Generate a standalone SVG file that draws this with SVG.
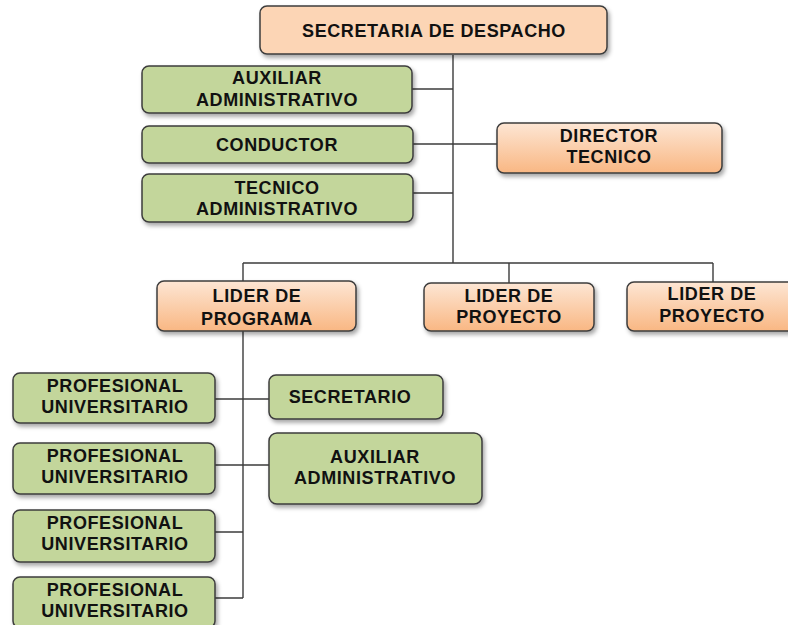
<svg xmlns="http://www.w3.org/2000/svg" width="788" height="625" viewBox="0 0 788 625">
<defs>
<linearGradient id="og" x1="0" y1="0" x2="0" y2="1">
<stop offset="0" stop-color="#fde6d4"/>
<stop offset="1" stop-color="#f9b783"/>
</linearGradient>
<filter id="sh" x="-10%" y="-20%" width="130%" height="160%">
<feDropShadow dx="2" dy="3" stdDeviation="2" flood-color="#000" flood-opacity="0.35"/>
</filter>
<style>
.box{stroke:#3c3c3c;stroke-width:1.5;filter:url(#sh)}
.g{fill:#c3d69b}
.o{fill:url(#og)}
.top{fill:#fcd5b5}
text{font-family:"Liberation Sans",Arial,sans-serif;font-weight:bold;font-size:18px;letter-spacing:0.6px;fill:#111;text-anchor:middle}
.c{stroke:#3c3c3c;stroke-width:1.4;fill:none}
</style>
</defs>
<rect width="788" height="625" fill="#fff"/>
<g id="connectors">
<path class="c" d="M453 55V263M412 89H453M413 144H497M413 193H453M243 263H713M243 263V281M509 263V283M713 263V282M243 331V598M215 399H269M215 465H269M215 532H243M215 598H243"/>
</g>
<g id="secretaria-despacho"><rect class="box top" x="260" y="6" width="347" height="48" rx="7"/><text x="434" y="37">SECRETARIA DE DESPACHO</text></g>
<g id="auxiliar-administrativo-1"><rect class="box g" x="142" y="66" width="270" height="47" rx="7"/><text x="277" y="84">AUXILIAR</text><text x="277" y="106">ADMINISTRATIVO</text></g>
<g id="conductor"><rect class="box g" x="142" y="126" width="271" height="37" rx="7"/><text x="277" y="151">CONDUCTOR</text></g>
<g id="tecnico-administrativo"><rect class="box g" x="142" y="174" width="271" height="48" rx="7"/><text x="277" y="194">TECNICO</text><text x="277" y="215">ADMINISTRATIVO</text></g>
<g id="director-tecnico"><rect class="box o" x="497" y="123" width="225" height="50" rx="7"/><text x="609" y="142">DIRECTOR</text><text x="609" y="163">TECNICO</text></g>
<g id="lider-programa"><rect class="box o" x="157" y="281" width="199" height="50" rx="7"/><text x="257" y="302">LIDER DE</text><text x="257" y="325">PROGRAMA</text></g>
<g id="lider-proyecto-1"><rect class="box o" x="424" y="283" width="170" height="48" rx="7"/><text x="509" y="302">LIDER DE</text><text x="509" y="323">PROYECTO</text></g>
<g id="lider-proyecto-2"><rect class="box o" x="627" y="282" width="170" height="49" rx="7"/><text x="712" y="300">LIDER DE</text><text x="712" y="322">PROYECTO</text></g>
<g id="profesional-1"><rect class="box g" x="13" y="373" width="202" height="50" rx="7"/><text x="115" y="392">PROFESIONAL</text><text x="115" y="413">UNIVERSITARIO</text></g>
<g id="profesional-2"><rect class="box g" x="13" y="443" width="202" height="51" rx="7"/><text x="115" y="462">PROFESIONAL</text><text x="115" y="483">UNIVERSITARIO</text></g>
<g id="profesional-3"><rect class="box g" x="13" y="510" width="202" height="52" rx="7"/><text x="115" y="529">PROFESIONAL</text><text x="115" y="550">UNIVERSITARIO</text></g>
<g id="profesional-4"><rect class="box g" x="13" y="577" width="202" height="51" rx="7"/><text x="115" y="596">PROFESIONAL</text><text x="115" y="617">UNIVERSITARIO</text></g>
<g id="secretario"><rect class="box g" x="269" y="375" width="174" height="44" rx="7"/><text x="350" y="403">SECRETARIO</text></g>
<g id="auxiliar-administrativo-2"><rect class="box g" x="269" y="433" width="213" height="71" rx="8"/><text x="375" y="463">AUXILIAR</text><text x="375" y="484">ADMINISTRATIVO</text></g>
</svg>
